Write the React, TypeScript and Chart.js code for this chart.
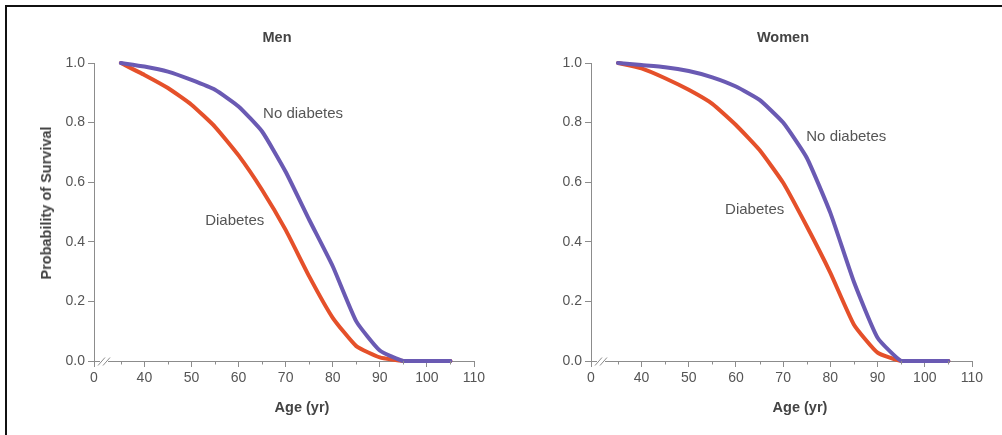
import React, { useEffect, useRef } from "react";
import { Chart, registerables } from "chart.js";

Chart.register(...registerables);

// ---- data ----
const ages = [35, 40, 45, 50, 55, 60, 65, 70, 75, 80, 85, 90, 95, 100, 105];
const menNoDiabetes = [1.0, 0.988, 0.971, 0.943, 0.91, 0.854, 0.77, 0.635, 0.474, 0.318, 0.133, 0.035, 0.0, 0.0, 0.0];
const menDiabetes = [1.0, 0.96, 0.916, 0.86, 0.786, 0.69, 0.574, 0.44, 0.284, 0.145, 0.05, 0.012, 0.0, 0.0, 0.0];
const womenNoDiabetes = [1.0, 0.993, 0.986, 0.973, 0.952, 0.921, 0.876, 0.8, 0.682, 0.497, 0.265, 0.078, 0.0, 0.0, 0.0];
const womenDiabetes = [1.0, 0.982, 0.949, 0.91, 0.863, 0.792, 0.708, 0.598, 0.452, 0.296, 0.122, 0.028, 0.0, 0.0, 0.0];

const xTickValues = [40, 50, 60, 70, 80, 90, 100, 110];
const xMinorTickValues = [35, 45, 55, 65, 75, 85, 95, 105];
const xBreakLabel = "0";
const xBreakValue = 29.3;
const yTickValues = [0, 0.2, 0.4, 0.6, 0.8, 1.0];

const seriesNames = ["No diabetes", "Diabetes"];
// label anchors [age, probability]
const menLabelAnchors = [[65.2, 0.829], [52.9, 0.47]];
const womenLabelAnchors = [[74.9, 0.753], [57.7, 0.508]];

const PURPLE = "#6a5ab3";
const ORANGE = "#e5502a";
const AXIS = "#8c8c8c";
const TEXT = "#555555";
const FONT = '"Liberation Sans", Arial, sans-serif';

const decorPlugin = {
  id: "decor",
  afterDraw(chart: any, _args: any, opts: any) {
    const ctx = chart.ctx;
    const xs = chart.scales.x;
    const ys = chart.scales.y;
    const left = chart.chartArea.left;
    const axisY = ys.getPixelForValue(0);
    ctx.save();
    // minor ticks
    ctx.strokeStyle = AXIS;
    ctx.lineWidth = 1;
    xMinorTickValues.forEach((v) => {
      const px = Math.round(xs.getPixelForValue(v)) + 0.5;
      ctx.beginPath();
      ctx.moveTo(px, axisY);
      ctx.lineTo(px, axisY + 3.5);
      ctx.stroke();
    });
    // axis break
    ctx.fillStyle = "#ffffff";
    ctx.fillRect(left + 6, axisY - 2, 8, 4);
    ctx.strokeStyle = AXIS;
    ctx.lineWidth = 1;
    ctx.beginPath();
    ctx.moveTo(left + 4, axisY + 4.5);
    ctx.lineTo(left + 11, axisY - 3.5);
    ctx.moveTo(left + 9, axisY + 4.5);
    ctx.lineTo(left + 16, axisY - 3.5);
    ctx.stroke();
    // series labels
    ctx.fillStyle = TEXT;
    ctx.font = "15px " + FONT;
    ctx.textAlign = "left";
    ctx.textBaseline = "middle";
    (opts.anchors || []).forEach((a: number[], i: number) => {
      ctx.fillText(seriesNames[i], xs.getPixelForValue(a[0]), ys.getPixelForValue(a[1]));
    });
    ctx.restore();
  },
};

function Panel(props: {
  noDiab: number[];
  diab: number[];
  anchors: number[][];
  width: number;
  padLeft: number;
  padRight: number;
  style: React.CSSProperties;
}) {
  const ref = useRef<HTMLCanvasElement>(null);
  useEffect(() => {
    const chart = new Chart(ref.current as HTMLCanvasElement, {
      type: "line",
      data: {
        datasets: [
          {
            label: seriesNames[0],
            data: ages.map((a, i) => ({ x: a, y: props.noDiab[i] })),
            borderColor: PURPLE,
            borderWidth: 4,
            pointRadius: 0,
            tension: 0.15,
            borderCapStyle: "round",
            borderJoinStyle: "round",
            clip: false,
          },
          {
            label: seriesNames[1],
            data: ages.map((a, i) => ({ x: a, y: props.diab[i] })),
            borderColor: ORANGE,
            borderWidth: 4,
            pointRadius: 0,
            tension: 0.15,
            borderCapStyle: "round",
            borderJoinStyle: "round",
            clip: false,
          },
        ],
      } as any,
      options: {
        animation: false,
        responsive: false,
        events: [],
        layout: { padding: { left: props.padLeft, right: props.padRight, top: 63, bottom: 34 } },
        plugins: {
          legend: { display: false },
          tooltip: { enabled: false },
          title: { display: false },
          decor: { anchors: props.anchors },
        } as any,
        scales: {
          x: {
            type: "linear",
            min: xBreakValue,
            max: 110,
            afterFit: (s: any) => {
              s.height = 40;
            },
            afterBuildTicks: (s: any) => {
              s.ticks = [xBreakValue, ...xTickValues].map((v) => ({ value: v }));
            },
            ticks: {
              autoSkip: false,
              maxRotation: 0,
              color: TEXT,
              padding: 3,
              font: { family: FONT, size: 14 },
              callback: (v: any) => (v < 35 ? xBreakLabel : String(v)),
            },
            grid: { drawOnChartArea: false, drawTicks: true, tickLength: 6, color: AXIS },
            border: { display: true, color: AXIS, width: 1 },
          },
          y: {
            type: "linear",
            min: 0,
            max: 1,
            afterFit: (s: any) => {
              s.width = 60;
            },
            afterBuildTicks: (s: any) => {
              s.ticks = yTickValues.map((v) => ({ value: v }));
            },
            ticks: {
              color: TEXT,
              padding: 3,
              font: { family: FONT, size: 14 },
              callback: (v: any) => Number(v).toFixed(1),
            },
            grid: { drawOnChartArea: false, drawTicks: true, tickLength: 6, color: AXIS },
            border: { display: true, color: AXIS, width: 1 },
          },
        },
      } as any,
      plugins: [decorPlugin],
    });
    return () => chart.destroy();
  }, []);
  return <canvas ref={ref} width={props.width} height={435} style={props.style} />;
}

const labelStyle = (x: number, y: number, extra: React.CSSProperties = {}): React.CSSProperties => ({
  position: "absolute",
  left: x,
  top: y,
  transform: "translate(-50%, -50%)",
  fontFamily: FONT,
  fontWeight: 700,
  fontSize: 14.5,
  color: "#444",
  whiteSpace: "nowrap",
  ...extra,
});

export default function App() {
  return (
    <div
      style={{
        position: "fixed",
        left: 0,
        top: 0,
        width: 1002,
        height: 435,
        background: "#fff",
        overflow: "hidden",
      }}
    >
      <div
        style={{
          position: "absolute",
          left: 5,
          top: 5,
          width: 997,
          height: 430,
          borderLeft: "2px solid #111",
          borderTop: "2px solid #111",
          boxSizing: "border-box",
        }}
      />
      <Panel
        noDiab={menNoDiabetes}
        diab={menDiabetes}
        anchors={menLabelAnchors}
        width={500}
        padLeft={34}
        padRight={26}
        style={{ position: "absolute", left: 0, top: 0 }}
      />
      <Panel
        noDiab={womenNoDiabetes}
        diab={womenDiabetes}
        anchors={womenLabelAnchors}
        width={502}
        padLeft={31}
        padRight={30}
        style={{ position: "absolute", left: 500, top: 0 }}
      />
      <div style={labelStyle(277, 37)}>Men</div>
      <div style={labelStyle(783, 37)}>Women</div>
      <div style={labelStyle(302, 407)}>Age (yr)</div>
      <div style={labelStyle(800, 407)}>Age (yr)</div>
      <div style={labelStyle(46, 203, { transform: "translate(-50%, -50%) rotate(-90deg)" })}>
        Probability of Survival
      </div>
    </div>
  );
}
